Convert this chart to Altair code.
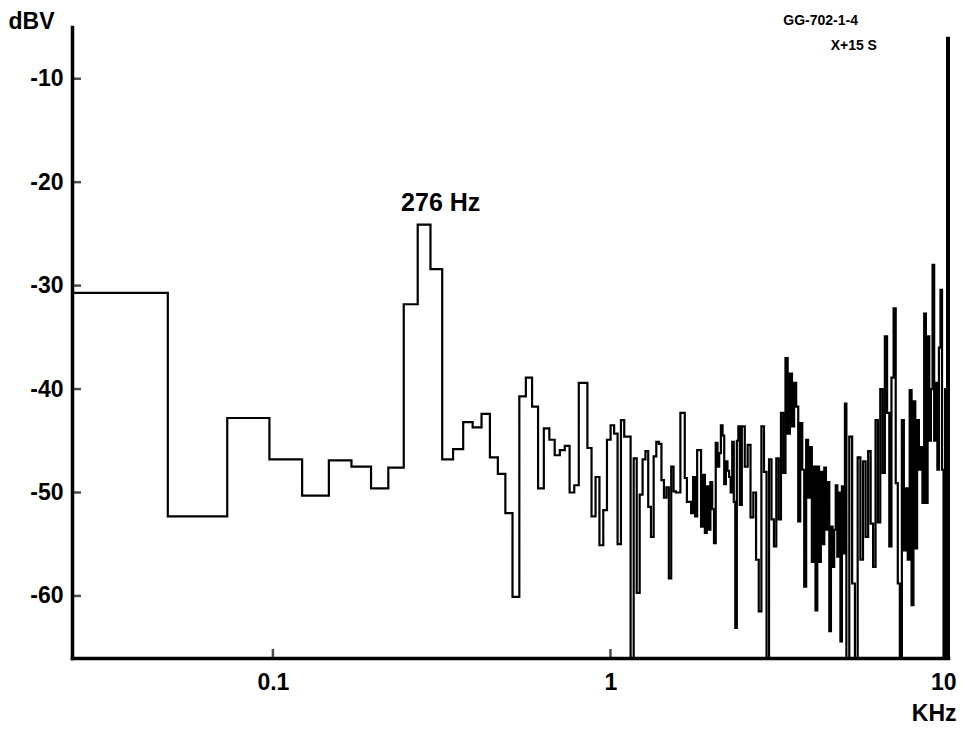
import altair as alt
import pandas as pd

# ---------------- data ----------------
BIN_KHZ = 0.0244140625  # analyzer line spacing (25/1024 kHz); bin k starts at k*BIN_KHZ

# levels of analyzer bins 1..99, dBV
bin_levels = [
    -30.7, -52.3, -42.8, -46.8, -50.3, -46.9, -47.5, -49.6, -47.6, -31.8,
    -24.1, -28.4, -46.8, -45.8, -43.2, -43.7, -42.4, -46.6, -48.2, -52.0,
    -60.1, -40.7, -38.9, -41.7, -49.6, -43.8, -44.9, -46.4, -45.9, -45.5,
    -50.0, -49.3, -39.4, -39.4, -45.7, -52.3, -48.5, -55.1, -51.7, -44.9,
    -43.5, -44.3, -55.0, -43.0, -44.6, -44.6, -68.0, -46.7, -59.7, -50.2,
    -46.8, -46.0, -51.4, -54.3, -46.5, -45.1, -45.3, -48.8, -50.5, -49.5,
    -58.3, -47.5, -49.9, -50.0, -50.0, -42.3, -42.3, -48.6, -50.9, -50.9,
    -52.0, -48.5, -52.3, -45.9, -45.9, -53.3, -48.3, -53.9, -49.4, -53.6,
    -49.0, -51.6, -54.9, -45.2, -47.5, -46.2, -43.5, -44.5, -49.2, -47.0,
    -47.9, -48.5, -50.0, -45.1, -50.9, -63.1, -45.0, -43.6, -51.2,
]

# dense high-frequency part: step start frequency (kHz) and level (dBV)
hf_freq_khz = [
    2.45, 2.50, 2.55, 2.60, 2.65, 2.70, 2.75, 2.80, 2.85, 2.90,
    2.95, 3.00, 3.05, 3.10, 3.15, 3.20, 3.25, 3.30, 3.35, 3.40,
    3.45, 3.50, 3.55, 3.60, 3.65, 3.70, 3.75, 3.80, 3.85, 3.90,
    3.95, 4.00, 4.05, 4.10, 4.15, 4.20, 4.25, 4.30, 4.35, 4.40,
    4.45, 4.50, 4.55, 4.60, 4.65, 4.70, 4.75, 4.80, 4.85, 4.90,
    4.95,
    5.0, 5.1, 5.2, 5.3, 5.4, 5.5, 5.6, 5.7, 5.8, 5.9,
    6.0, 6.1, 6.2, 6.3, 6.4, 6.5, 6.6, 6.7, 6.8, 6.9,
    7.0, 7.1, 7.2, 7.3, 7.4, 7.5, 7.6, 7.7, 7.8, 7.9,
    8.0, 8.1, 8.2, 8.3, 8.4, 8.5, 8.6, 8.7, 8.8, 8.9,
    9.0, 9.1, 9.2, 9.3, 9.4, 9.5, 9.6, 9.7, 9.8, 9.9,
    10.0,
]
hf_levels = [
    -43.6, -47.5, -45.4, -52.4, -50.0, -56.5, -61.5, -43.6, -48.0, -68.0,
    -46.8, -52.6, -55.2, -46.7, -52.6, -42.3, -48.1, -37.0, -44.3, -38.5,
    -43.6, -39.4, -41.7, -52.8, -43.3, -47.8, -59.1, -44.9, -50.5, -45.6,
    -56.7, -47.5, -61.4, -47.5, -56.7, -48.0, -55.0, -47.6, -53.6, -49.0,
    -63.4, -53.3, -57.2, -53.6, -49.3, -56.2, -50.0, -64.4, -49.4, -55.9,
    -41.4,
    -68.0, -44.6, -58.8, -68.0, -46.6, -56.5, -47.0, -54.3, -46.0, -53.0,
    -57.2, -43.0, -52.9, -40.0, -48.1, -34.9, -42.3, -55.2, -38.9, -32.2,
    -49.1, -58.8, -68.0, -43.0, -55.6, -49.6, -56.5, -40.1, -60.9, -41.2,
    -55.4, -43.0, -47.8, -45.6, -51.0, -32.7, -51.0, -34.9, -45.0, -40.0,
    -28.0, -45.0, -39.4, -47.8, -36.0, -30.4, -47.8, -68.0, -40.0, -45.0,
    -45.0,
]

x_tick_values = [0.1, 1, 10]
y_tick_values = [-10, -20, -30, -40, -50, -60]

X_DOMAIN = [0.0254, 10]
Y_DOMAIN = [-66, -5]

# ---------------- build table ----------------
freqs = [(k + 1) * BIN_KHZ for k in range(len(bin_levels))] + hf_freq_khz
levels = bin_levels + hf_levels
df = pd.DataFrame({"f": freqs, "db": levels})

FONT = "Liberation Sans"

xscale = alt.Scale(type="log", domain=X_DOMAIN, nice=False)
yscale = alt.Scale(domain=Y_DOMAIN, nice=False, zero=False)

x_axis = alt.Axis(
    values=x_tick_values, format="~g", grid=False, ticks=False,
    labelFont=FONT, labelFontSize=23, labelFontWeight="bold", labelColor="black",
    labelPadding=13, labelFlush=False, labelOverlap=False,
    labelAlign={"condition": {"test": "datum.value >= 10", "value": "right"}, "value": "center"},
    labelOffset={"condition": {"test": "datum.value >= 10", "value": 8}, "value": 0},
    domainColor="black", domainWidth=3.5, domainCap="square",
    title="KHz", titleFont=FONT, titleFontSize=23, titleFontWeight="bold",
    titleColor="black", titleAlign="right", titleBaseline="alphabetic",
    titleX=884, titleY=62,
)
y_axis = alt.Axis(
    values=y_tick_values, labelExpr="'-' + abs(datum.value)", grid=False, ticks=False,
    labelFont=FONT, labelFontSize=23, labelFontWeight="bold", labelColor="black",
    labelPadding=9, labelOverlap=False,
    domainColor="black", domainWidth=3.5, domainCap="square",
    title="dBV", titleFont=FONT, titleFontSize=23, titleFontWeight="bold",
    titleColor="black", titleAngle=0, titleAlign="left", titleBaseline="alphabetic",
    titleX=-64, titleY=1,
)

line = alt.Chart(df).mark_line(
    interpolate="step-after", color="black", strokeWidth=2.2, clip=True
).encode(
    x=alt.X("f:Q", scale=xscale, axis=x_axis),
    y=alt.Y("db:Q", scale=yscale, axis=y_axis),
)

yticks = alt.Chart(pd.DataFrame({"v": y_tick_values})).mark_tick(
    orient="horizontal", size=9, thickness=2.5, xOffset=4.5, color="black"
).encode(y=alt.Y("v:Q", scale=yscale), x=alt.datum(X_DOMAIN[0]))

xticks = alt.Chart(pd.DataFrame({"v": x_tick_values[:2]})).mark_tick(
    orient="vertical", size=9, thickness=2.5, yOffset=-4.5, color="black"
).encode(x=alt.X("v:Q", scale=xscale), y=alt.datum(Y_DOMAIN[0]))

frame_right = alt.Chart(pd.DataFrame({"a": [0]})).mark_rule(
    color="black", strokeWidth=4
).encode(x=alt.datum(10), y=alt.datum(-5.95), y2=alt.datum(Y_DOMAIN[0]))

peak_label = alt.Chart(pd.DataFrame({"a": [0]})).mark_text(
    text="276 Hz", font=FONT, fontSize=25, fontWeight="bold", color="black",
    align="center", baseline="alphabetic", dx=19
).encode(x=alt.datum(0.276), y=alt.datum(-22.8))

id_label = alt.Chart(pd.DataFrame({"a": [0]})).mark_text(
    text="GG-702-1-4", font=FONT, fontSize=14, fontWeight="bold", color="black",
    align="right", baseline="alphabetic"
).encode(x=alt.datum(5.41), y=alt.datum(-4.8))

time_label = alt.Chart(pd.DataFrame({"a": [0]})).mark_text(
    text="X+15 S", font=FONT, fontSize=14, fontWeight="bold", color="black",
    align="right", baseline="alphabetic"
).encode(x=alt.datum(6.16), y=alt.datum(-7.22))

chart = alt.layer(
    line, yticks, xticks, frame_right, peak_label, id_label, time_label
).properties(
    width=876, height=631,
    autosize=alt.AutoSizeParams(type="none"),
    padding={"left": 64, "top": 19, "right": 9, "bottom": 66},
    background="white",
).configure_view(stroke=None)

chart.save("out.html", embed_options={"renderer": "svg", "actions": False})
